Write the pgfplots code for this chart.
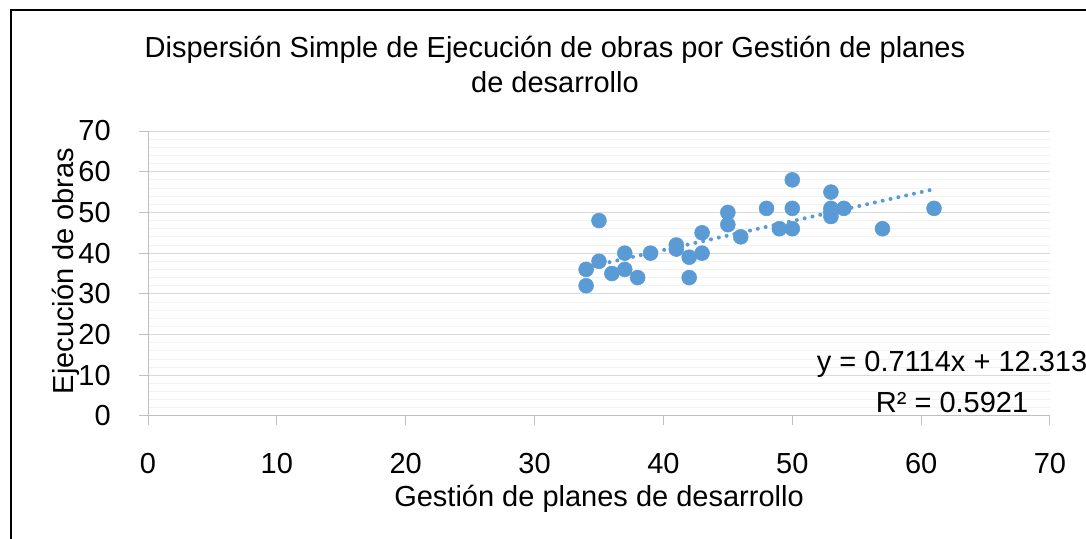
\documentclass[border=0pt]{standalone}
\usepackage{fontspec}
\setmainfont{Liberation Sans}
\usepackage{pgfplots}
\pgfplotsset{compat=1.18}
\definecolor{pblue}{HTML}{5B9BD5}
\definecolor{majgrid}{HTML}{D9D9D9}
\definecolor{mingrid}{HTML}{F2F2F2}
\definecolor{axgray}{HTML}{BFBFBF}
\newcommand{\fs}{\fontsize{21.75pt}{26.25pt}\selectfont}
\begin{document}
\begin{tikzpicture}
\path[use as bounding box] (0pt,0pt) rectangle (814.5pt,404.25pt);
\draw[black, line width=1.5pt] (8.25pt,-20pt) -- (8.25pt,396.75pt) -- (830pt,396.75pt);
\begin{axis}[
  at={(111pt,92.25pt)}, anchor=south west,
  scale only axis, width=676.5pt, height=213.75pt,
  xmin=0, xmax=70, ymin=0, ymax=70,
  xtick={0,10,...,70}, ytick={0,10,...,70},
  minor y tick num=4,
  ymajorgrids, yminorgrids,
  major grid style={majgrid, line width=0.75pt},
  minor grid style={mingrid, line width=0.75pt},
  axis x line*=bottom, axis y line*=left,
  axis line style={axgray, line width=0.75pt},
  tick align=outside, major tick length=6.75pt, minor tick length=0pt,
  major tick style={axgray, line width=0.75pt},
  tick label style={font=\fs, text=black},
  /pgf/number format/assume math mode=true,
  xticklabel style={anchor=base, inner sep=0pt, yshift=-36pt},
  yticklabel style={anchor=east, inner sep=0pt, xshift=-21pt},
  clip=false,
  title={Dispersión Simple de Ejecución de obras por Gestión de planes\\de desarrollo},
  title style={font=\fs, align=center, anchor=base, inner sep=0pt, at={(rel axis cs:0.4512,1.1087)}},
  xlabel={Gestión de planes de desarrollo},
  xlabel style={font=\fs, anchor=base, inner sep=0pt, at={(rel axis cs:0.5,-0.3193)}},
  ylabel={Ejecución de obras},
  ylabel style={font=\fs, anchor=base, inner sep=0pt, at={(rel axis cs:-0.08315,0.5088)}},
]
\addplot[pblue, line width=3pt, line cap=round, dash pattern=on 0pt off 6pt] coordinates {(34,36.5006) (61,55.7084)};
\addplot[only marks, mark=*, mark size=5.6pt, mark options={fill=pblue, draw=pblue}] coordinates {
(34,36) (34,32) (35,48) (35,38) (36,35) (37,40) (37,36) (38,34) (39,40)
(41,42) (41,41) (42,39) (42,34) (43,45) (43,40) (45,50) (45,47) (46,44)
(48,51) (49,46) (50,58) (50,51) (50,46) (53,55) (53,51) (53,50) (53,49)
(54,51) (57,46) (61,51)
};
\node[font=\fs, anchor=base, inner sep=0pt] at (axis cs:62.4,10.81) {y = 0.7114x + 12.313};
\node[font=\fs, anchor=base, inner sep=0pt] at (axis cs:62.4,0.98) {R² = 0.5921};
\end{axis}
\end{tikzpicture}
\end{document}
